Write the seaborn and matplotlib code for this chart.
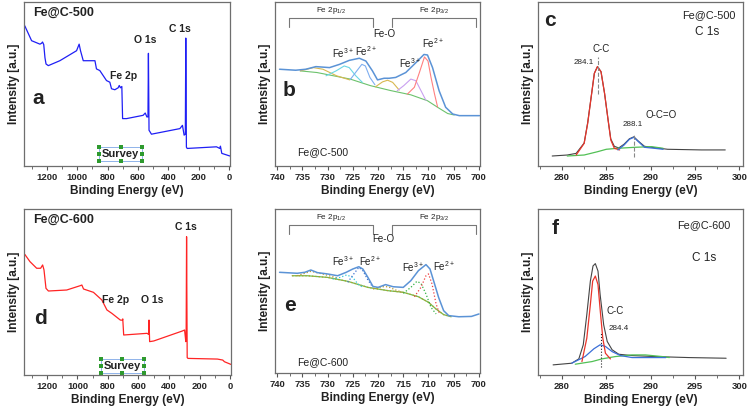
import seaborn as sns
import matplotlib.pyplot as plt
from matplotlib.ticker import MultipleLocator

sns.set_style('ticks')
plt.rcParams['font.family'] = ['Liberation Sans', 'DejaVu Sans']
plt.rcParams['mathtext.fontset'] = 'custom'
plt.rcParams['mathtext.rm'] = 'Liberation Sans'

# ---- survey spectra (binding energy eV, intensity a.u.) ----
survey500_x = [1345, 1300, 1245, 1235, 1228, 1220, 1212, 1205, 1190, 1114, 1004, 987, 978, 960,
               883, 873, 851, 807, 785, 774, 752, 730, 723, 715, 706, 701, 675, 566, 552, 541,
               534, 531, 527, 511, 324, 307, 296, 288, 285, 281, 276, 83, 61, 57, 48, -5]
survey500_y = [85.5, 76.4, 74.3, 74.8, 75.6, 74.0, 66.0, 62.2, 61.2, 64.2, 70.3, 74.3, 70.3, 64.2,
               64.2, 59.2, 58.2, 52.1, 51.1, 47.1, 46.5, 47.7, 49.1, 47.7, 48.5, 28.9, 28.9, 30.9, 32.3, 29.9,
               30.0, 68.7, 21.8, 19.4, 22.8, 24.8, 18.8, 19.5, 78.0, 11.5, 10.7, 11.7, 10.7, 12.1, 7.7, 6.1]

survey600_x = [1345, 1311, 1267, 1241, 1228, 1219, 1206, 1190, 1070, 982, 971, 960, 895, 840,
               807, 774, 719, 706, 703, 697, 544, 534, 531, 527, 500, 313, 298, 290, 288, 285,
               281, 276, 83, 48, 37, -5]
survey600_y = [72.7, 68.3, 64.3, 64.3, 66.3, 63.3, 52.2, 50.6, 51.2, 53.8, 54.2, 51.8, 49.8, 45.2,
               39.2, 37.1, 33.1, 33.0, 33.8, 24.1, 25.1, 24.5, 33.1, 20.1, 20.5, 26.5, 27.1, 20.1, 20.5, 83.3,
               10.5, 10.0, 9.6, 9.0, 8.0, 6.4]

# ---- Fe 2p, Fe@C-500 ----
fe500_env_x = [739.5, 736.3, 734.3, 732.3, 729.6, 727.6, 725.7, 723.7, 722.4, 721.1, 720.1, 718.8,
               717.8, 716.5, 714.5, 712.5, 710.9, 710.2, 709.2, 707.9, 706.6, 705.2, 703.9, 699.9]
fe500_env_y = [59.0, 58.4, 59.0, 60.6, 60.0, 62.0, 64.4, 65.7, 64.0, 58.0, 52.5, 53.5,
               53.5, 54.0, 57.0, 63.0, 68.0, 67.7, 60.0, 45.9, 35.8, 31.7, 30.7, 30.7]
fe500_bg_x = [735.4, 732.1, 725.5, 721.5, 717.5, 713.5, 710.2, 708.2, 706.2, 704.9]
fe500_bg_y = [58.0, 57.0, 53.0, 49.0, 46.0, 43.4, 39.8, 35.8, 32.0, 31.1]
fe500_fe2_32_x = [714.2, 712.8, 711.8, 710.8, 710.1, 709.5, 708.8, 708.2]
fe500_fe2_32_y = [43.8, 48.0, 57.0, 66.5, 64.0, 54.0, 43.8, 36.0]
fe500_fe3_32_x = [716.2, 714.9, 713.5, 712.5, 711.5, 710.5]
fe500_fe3_32_y = [45.9, 49.0, 53.0, 52.0, 46.0, 40.0]
fe500_sat_x = [720.5, 719.1, 718.1, 717.1, 715.8]
fe500_sat_y = [48.3, 51.3, 52.3, 51.0, 46.3]
fe500_fe2_12_x = [725.5, 724.2, 723.2, 722.5, 721.6, 720.6]
fe500_fe2_12_y = [52.7, 58.0, 62.0, 61.0, 54.0, 49.5]
fe500_fe3_12_x = [730.3, 728.3, 726.7, 725.7, 724.4, 723.1]
fe500_fe3_12_y = [55.0, 58.0, 61.0, 60.0, 55.0, 51.0]
fe500_sat2_x = [735.4, 732.8, 730.9, 728.2, 725.6]
fe500_sat2_y = [58.0, 60.0, 59.0, 55.0, 52.5]

# ---- Fe 2p, Fe@C-600 ----
fe600_env_x = [739.5, 736.0, 734.5, 733.3, 732.0, 730.0, 728.0, 726.3, 725.0, 723.8, 723.0, 722.0,
               721.0, 720.0, 718.5, 717.0, 715.0, 713.5, 712.0, 710.5, 709.7, 708.8, 708.0, 707.0,
               706.0, 704.0, 701.5, 700.0]
fe600_env_y = [61.4, 60.8, 61.4, 62.8, 61.2, 60.4, 59.3, 61.4, 63.4, 64.8, 63.4, 58.3,
               52.8, 52.2, 53.9, 52.6, 52.2, 56.3, 62.4, 66.1, 63.4, 54.3, 46.1, 38.0,
               35.0, 34.3, 34.5, 36.0]
fe600_bg_x = [737.0, 734.0, 730.0, 726.0, 722.0, 718.0, 715.0, 712.0, 710.0, 708.5, 707.0, 705.5]
fe600_bg_y = [59.3, 59.3, 58.3, 55.9, 52.2, 50.2, 49.2, 46.5, 43.1, 39.0, 35.6, 34.3]
fe600_fe2_32_x = [712.8, 711.5, 710.5, 710.0, 709.3, 708.5, 707.8]
fe600_fe2_32_y = [46.5, 52.2, 59.3, 60.4, 54.3, 42.1, 36.0]
fe600_fe3_32_x = [715.0, 713.5, 712.3, 711.5, 710.5, 709.5, 708.5]
fe600_fe3_32_y = [48.6, 52.2, 55.9, 54.7, 48.2, 40.0, 36.0]
fe600_sat_x = [721.0, 719.0, 718.0, 716.5, 715.0]
fe600_sat_y = [51.2, 52.6, 52.6, 50.6, 49.0]
fe600_fe2_12_x = [726.0, 724.8, 723.8, 723.0, 722.0, 721.0]
fe600_fe2_12_y = [55.3, 60.4, 64.4, 62.4, 56.7, 52.2]
fe600_fe3_12_x = [729.0, 727.5, 726.2, 725.0, 724.0, 723.0]
fe600_fe3_12_y = [57.3, 58.3, 59.8, 58.3, 54.3, 52.2]
fe600_sat2_x = [736.0, 733.3, 731.0, 728.0]
fe600_sat2_y = [59.3, 62.0, 60.4, 57.9]

# ---- C 1s, Fe@C-500 ----
c500_raw_x = [278.9, 280.6, 281.6, 282.5, 282.9, 283.3, 283.65, 284.0, 284.4, 284.8, 285.2, 285.5,
              285.9, 286.4, 287.0, 287.6, 288.1, 288.6, 289.3, 290.4, 291.9, 295.7, 298.4]
c500_raw_y = [6.1, 6.7, 7.7, 14.0, 26.5, 42.5, 56.5, 60.6, 57.5, 44.3, 28.0, 16.5,
              12.0, 11.0, 13.3, 16.6, 17.8, 15.2, 12.0, 11.2, 10.2, 9.8, 9.8]
c500_cc_x = [281.6, 282.5, 282.9, 283.3, 283.65, 284.0, 284.4, 284.8, 285.2, 285.5, 285.9, 286.5]
c500_cc_y = [6.7, 13.8, 26.0, 42.3, 56.5, 60.6, 57.5, 44.3, 28.0, 15.9, 10.8, 9.8]
c500_oco_x = [286.3, 287.0, 287.6, 288.1, 288.6, 289.3, 290.4, 291.4]
c500_oco_y = [9.8, 12.8, 16.3, 17.5, 14.9, 11.4, 10.8, 10.2]
c500_bg_x = [280.6, 282.5, 284.0, 285.0, 286.3, 288.2, 290.1, 291.4]
c500_bg_y = [6.1, 6.7, 8.7, 10.2, 10.8, 11.4, 11.8, 10.8]

# ---- C 1s, Fe@C-600 ----
c600_raw_x = [279.0, 281.1, 281.9, 282.4, 282.8, 283.2, 283.5, 283.76, 284.06, 284.3, 284.7, 285.1,
              285.65, 286.4, 287.9, 290.5, 294.3, 298.5]
c600_raw_y = [6.1, 7.1, 9.7, 18.2, 36.4, 56.6, 65.7, 67.1, 62.6, 48.5, 30.3, 20.2,
              15.2, 12.5, 11.7, 11.1, 10.5, 10.1]
c600_cc_x = [282.25, 282.8, 283.2, 283.46, 283.76, 284.06, 284.32, 284.6, 284.9, 285.46]
c600_cc_y = [8.1, 22.2, 42.4, 56.6, 59.6, 54.5, 38.4, 22.2, 13.1, 9.7]
c600_c2_x = [281.1, 282.6, 283.6, 284.3, 284.9, 285.65, 286.6, 287.9, 290.2, 291.7]
c600_c2_y = [7.1, 11.1, 15.8, 18.2, 17.2, 14.1, 11.7, 10.5, 10.5, 10.5]
c600_bg_x = [281.5, 283.4, 284.5, 286.0, 287.9, 289.4, 291.3, 292.1]
c600_bg_y = [6.5, 8.1, 9.7, 11.1, 12.1, 12.1, 11.1, 10.5]

W, H = 752, 411
fig = plt.figure(figsize=(W / 100, H / 100), dpi=100)


def make_ax(l, t, r, b):
    return fig.add_axes([l / W, 1 - b / H, (r - l) / W, (b - t) / H])


ax_a = make_ax(24, 2, 230, 166)
ax_b = make_ax(275, 2, 480, 166)
ax_c = make_ax(538, 2, 743, 166)
ax_d = make_ax(24, 209, 231, 375)
ax_e = make_ax(275, 209, 480, 373)
ax_f = make_ax(538, 209, 743, 375)

bold = dict(fontweight='bold', color='#222222')


def style(ax, xlim, major, minor):
    ax.set_xlim(*xlim)
    ax.set_ylim(0, 100)
    ax.set_yticks([])
    ax.xaxis.set_major_locator(MultipleLocator(major))
    ax.xaxis.set_minor_locator(MultipleLocator(minor))
    ax.tick_params(axis='x', which='major', direction='out', length=3, width=0.8,
                   color='#555555', labelsize=6.8, pad=2)
    ax.tick_params(axis='x', which='minor', direction='out', length=2, width=0.6, color='#555555')
    for lab in ax.get_xticklabels():
        lab.set_fontweight('bold')
    for s in ax.spines.values():
        s.set_visible(True)
        s.set_color('#6e6e6e')
        s.set_linewidth(0.9)
    ax.set_xlabel('Binding Energy (eV)', fontsize=8.6, labelpad=2, **bold)
    ax.set_ylabel('Intensity [a.u.]', fontsize=8.6, labelpad=3, **bold)


def line(ax, x, y, color, lw=1.0, ls='-'):
    sns.lineplot(x=x, y=y, ax=ax, color=color, lw=lw, ls=ls, sort=False, estimator=None)


def survey_box(ax, x0, x1, y0, y1):
    ax.plot([x0, x1, x1, x0, x0], [y0, y0, y1, y1, y0], color='#8fb3ea', lw=0.7)
    xm, ym = (x0 + x1) / 2, (y0 + y1) / 2
    hx = [x0, xm, x1, x0, x1, x0, xm, x1]
    hy = [y0, y0, y0, ym, ym, y1, y1, y1]
    ax.plot(hx, hy, 's', color='#2e9a2e', ms=2.2, mew=0)
    ax.text(xm, ym, 'Survey', ha='center', va='center', fontsize=8, **bold)


def bracket(ax, x0, x1, y0, y1, label):
    ax.plot([x0, x0, x1, x1], [y0, y1, y1, y0], color='#777777', lw=0.8)
    ax.text((x0 + x1) / 2, y1 + 1.2, label, ha='center', va='bottom', fontsize=5.8, color='#222222')


# ---------- a ----------
line(ax_a, survey500_x, survey500_y, '#1f1ff5', lw=0.9)
style(ax_a, (1350, -6), 200, 100)
ax_a.text(1291, 93.5, 'Fe@C-500', fontsize=9, va='center', **bold)
ax_a.text(555, 76.8, 'O 1s', fontsize=7.5, ha='center', va='center', **bold)
ax_a.text(322, 83.4, 'C 1s', fontsize=7.5, ha='center', va='center', **bold)
ax_a.text(697, 55, 'Fe 2p', fontsize=7.5, ha='center', va='center', **bold)
ax_a.text(1256, 41, 'a', fontsize=15, ha='center', va='center', **bold)
survey_box(ax_a, 855, 570, 2.8, 11.7)

# ---------- d ----------
line(ax_d, survey600_x, survey600_y, '#ff2424', lw=0.9)
style(ax_d, (1350, -6), 200, 100)
ax_d.text(1291, 93.4, 'Fe@C-600', fontsize=9, va='center', **bold)
ax_d.text(291, 89.4, 'C 1s', fontsize=7.5, ha='center', va='center', **bold)
ax_d.text(752, 45.2, 'Fe 2p', fontsize=7.5, ha='center', va='center', **bold)
ax_d.text(510, 45.2, 'O 1s', fontsize=7.5, ha='center', va='center', **bold)
ax_d.text(1245, 34.1, 'd', fontsize=15, ha='center', va='center', **bold)
survey_box(ax_d, 846, 565, 1.2, 9.6)

# ---------- b ----------
line(ax_b, fe500_bg_x, fe500_bg_y, '#6cc26c', lw=0.8)
line(ax_b, fe500_sat2_x, fe500_sat2_y, '#d8b850', lw=0.8)
line(ax_b, fe500_fe3_12_x, fe500_fe3_12_y, '#6ad6e6', lw=0.8)
line(ax_b, fe500_fe2_12_x, fe500_fe2_12_y, '#7eaef0', lw=0.8)
line(ax_b, fe500_sat_x, fe500_sat_y, '#d8b850', lw=0.8)
line(ax_b, fe500_fe3_32_x, fe500_fe3_32_y, '#c9a0f0', lw=0.8)
line(ax_b, fe500_fe2_32_x, fe500_fe2_32_y, '#ff8080', lw=0.8)
line(ax_b, fe500_env_x, fe500_env_y, '#5b93d6', lw=1.1)
style(ax_b, (740.4, 699.8), 5, 2.5)
bracket(ax_b, 737.6, 720.9, 85, 90.3, r'Fe 2p$_{1/2}$')
bracket(ax_b, 717.3, 700.6, 85, 90.3, r'Fe 2p$_{3/2}$')
ax_b.text(718.7, 80.6, 'Fe-O', fontsize=7, ha='center', va='center', color='#222222')
ax_b.text(727, 69, r'Fe$^{3+}$', fontsize=7, ha='center', va='center', color='#222222')
ax_b.text(722.3, 70, r'Fe$^{2+}$', fontsize=7, ha='center', va='center', color='#222222')
ax_b.text(713.6, 63, r'Fe$^{3+}$', fontsize=7, ha='center', va='center', color='#222222')
ax_b.text(709, 75, r'Fe$^{2+}$', fontsize=7, ha='center', va='center', color='#222222')
ax_b.text(737.7, 46, 'b', fontsize=15, ha='center', va='center', **bold)
ax_b.text(736.0, 8.5, 'Fe@C-500', fontsize=7.5, va='center', color='#222222')

# ---------- e ----------
line(ax_e, fe600_bg_x, fe600_bg_y, '#6cbf4f', lw=0.9)
line(ax_e, fe600_bg_x, fe600_bg_y, '#b89a30', lw=0.9, ls=':')
line(ax_e, fe600_sat2_x, fe600_sat2_y, '#b89a30', lw=0.9, ls=':')
line(ax_e, fe600_fe3_12_x, fe600_fe3_12_y, '#2fc8da', lw=0.9, ls=':')
line(ax_e, fe600_fe2_12_x, fe600_fe2_12_y, '#3d6fd0', lw=0.9, ls=':')
line(ax_e, fe600_sat_x, fe600_sat_y, '#b89a30', lw=0.9, ls=':')
line(ax_e, fe600_fe3_32_x, fe600_fe3_32_y, '#30b040', lw=0.9, ls=':')
line(ax_e, fe600_fe2_32_x, fe600_fe2_32_y, '#ee4040', lw=0.9, ls=':')
line(ax_e, fe600_env_x, fe600_env_y, '#5b93d6', lw=1.1)
style(ax_e, (740.4, 699.8), 5, 2.5)
bracket(ax_e, 737.6, 720.9, 85, 90.3, r'Fe 2p$_{1/2}$')
bracket(ax_e, 717.3, 700.6, 85, 90.3, r'Fe 2p$_{3/2}$')
ax_e.text(719, 81.5, 'Fe-O', fontsize=7, ha='center', va='center', color='#222222')
ax_e.text(726.9, 68.5, r'Fe$^{3+}$', fontsize=7, ha='center', va='center', color='#222222')
ax_e.text(721.6, 68.5, r'Fe$^{2+}$', fontsize=7, ha='center', va='center', color='#222222')
ax_e.text(713, 64.5, r'Fe$^{3+}$', fontsize=7, ha='center', va='center', color='#222222')
ax_e.text(707, 65, r'Fe$^{2+}$', fontsize=7, ha='center', va='center', color='#222222')
ax_e.text(737.4, 41, 'e', fontsize=15, ha='center', va='center', **bold)
ax_e.text(736.0, 6.5, 'Fe@C-600', fontsize=7.5, va='center', color='#222222')

# ---------- c ----------
line(ax_c, c500_raw_x, c500_raw_y, '#444444', lw=0.8)
line(ax_c, c500_bg_x, c500_bg_y, '#52c055', lw=0.9)
line(ax_c, c500_cc_x, c500_cc_y, '#e8352b', lw=0.9)
line(ax_c, c500_oco_x, c500_oco_y, '#3b6fd8', lw=0.9)
ax_c.plot([284.1, 284.1], [44, 66.5], color='#888888', lw=0.8, ls='--')
ax_c.plot([288.1, 288.1], [5.5, 19.7], color='#888888', lw=0.8, ls='--')
style(ax_c, (277.3, 300.4), 5, 2.5)
ax_c.text(278.6, 89, 'c', fontsize=15, ha='center', va='center', **bold)
ax_c.text(296.5, 92, 'Fe@C-500', fontsize=7.8, ha='center', va='center', color='#222222')
ax_c.text(296.4, 82, 'C 1s', fontsize=8.5, ha='center', va='center', color='#222222')
ax_c.text(284.4, 71.5, 'C-C', fontsize=7, ha='center', va='center', color='#222222')
ax_c.text(282.5, 63.4, '284.1', fontsize=5.8, ha='center', va='center', color='#222222')
ax_c.text(291.2, 30.9, 'O-C=O', fontsize=7, ha='center', va='center', color='#222222')
ax_c.text(288.0, 25.4, '288.1', fontsize=5.8, ha='center', va='center', color='#222222')

# ---------- f ----------
line(ax_f, c600_raw_x, c600_raw_y, '#444444', lw=0.8)
line(ax_f, c600_bg_x, c600_bg_y, '#52c055', lw=0.9)
line(ax_f, c600_c2_x, c600_c2_y, '#3b6fd8', lw=0.9)
line(ax_f, c600_cc_x, c600_cc_y, '#e8352b', lw=0.9)
ax_f.plot([284.4, 284.4], [5.1, 25.3], color='#222222', lw=0.8, ls=':')
style(ax_f, (277.3, 300.4), 5, 2.5)
ax_f.text(279.2, 88, 'f', fontsize=15, ha='center', va='center', **bold)
ax_f.text(296.0, 90, 'Fe@C-600', fontsize=7.8, ha='center', va='center', color='#222222')
ax_f.text(296.0, 70.7, 'C 1s', fontsize=8.5, ha='center', va='center', color='#222222')
ax_f.text(286.0, 38.4, 'C-C', fontsize=7, ha='center', va='center', color='#222222')
ax_f.text(286.4, 28.3, '284.4', fontsize=5.8, ha='center', va='center', color='#222222')

fig.savefig('out.png', dpi=100)
